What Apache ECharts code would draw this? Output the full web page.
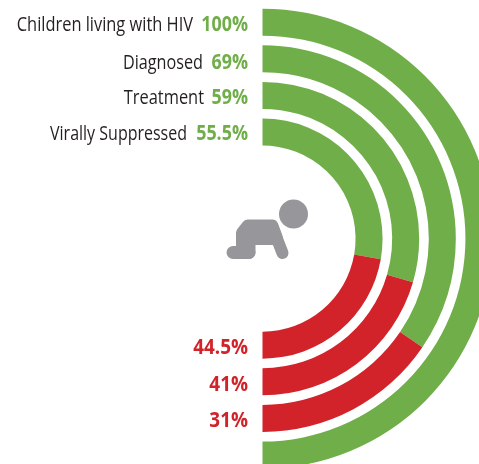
<!DOCTYPE html>
<html>
<head>
<meta charset="utf-8">
<title>Children living with HIV</title>
<script src="https://cdn.jsdelivr.net/npm/echarts@6/dist/echarts.min.js"></script>
<style>
  html, body { margin: 0; padding: 0; background: #fff; }
  #chart { width: 479px; height: 464px; }
</style>
</head>
<body>
<div id="chart"></div>
<script>
// rings go from the inside out
var categories = ['Virally Suppressed', 'Treatment', 'Diagnosed', 'Children living with HIV'];
var reached = [55.5, 59, 69, 100];
var missed = [44.5, 41, 31, 0];
var reachedLabels = ['55.5%', '59%', '69%', '100%'];
var missedLabels = ['44.5%', '41%', '31%'];

var green = '#6fae49';
var red = '#d2232a';
var grey = '#97979b';
var labelFont = '"Open Sans", sans-serif';

// text rows, same order as the rings
var topRows = [134, 98, 63, 25];
var nameRight = [187, 204, 203, 193];
var nameSqueeze = [0.8, 0.82, 0.81, 0.82];
var bottomRows = [348, 385, 421];

var graphics = [];

function addText(text, x, y, font, fill, squeeze) {
    graphics.push({
        type: 'text',
        x: x,
        y: y,
        scaleX: squeeze,
        style: {
            text: text,
            align: 'right',
            verticalAlign: 'middle',
            font: font,
            fill: fill
        }
    });
}

categories.forEach(function (name, i) {
    addText(name, nameRight[i], topRows[i], '20px ' + labelFont, '#231f20', nameSqueeze[i]);
    addText(reachedLabels[i], 248, topRows[i], 'bold 21px ' + labelFont, green, 0.85);
});

missedLabels.forEach(function (label, i) {
    addText(label, 248, bottomRows[i], 'bold 21px ' + labelFont, red, 0.9);
});

// crawling baby icon
graphics.push({
    type: 'circle',
    shape: { cx: 293.5, cy: 214, r: 14.5 },
    style: { fill: grey }
});
graphics.push({
    type: 'polygon',
    shape: {
        points: [[242.5, 233], [248, 226], [272, 226], [276.5, 238.5], [249, 238.5], [249, 252.5], [242.5, 252.5]]
    },
    style: { fill: grey, stroke: grey, lineWidth: 13, lineJoin: 'round' }
});
graphics.push({
    type: 'line',
    shape: { x1: 233, y1: 252.5, x2: 249, y2: 252.5 },
    style: { stroke: grey, lineWidth: 13, lineCap: 'round' }
});
graphics.push({
    type: 'line',
    shape: { x1: 272, y1: 226, x2: 282.5, y2: 253 },
    style: { stroke: grey, lineWidth: 12, lineCap: 'round' }
});

var chart = echarts.init(document.getElementById('chart'));
chart.setOption({
    animation: false,
    backgroundColor: '#fff',
    polar: {
        center: [262.5, 238.6],
        radius: [88.25, 234.75]
    },
    // 100% is half a turn
    angleAxis: {
        type: 'value',
        min: 0,
        max: 200,
        startAngle: 90,
        clockwise: true,
        show: false
    },
    radiusAxis: {
        type: 'category',
        data: categories,
        show: false
    },
    series: [
        {
            type: 'bar',
            coordinateSystem: 'polar',
            stack: 'ring',
            barWidth: 27,
            silent: true,
            data: reached,
            itemStyle: { color: green }
        },
        {
            type: 'bar',
            coordinateSystem: 'polar',
            stack: 'ring',
            barWidth: 27,
            silent: true,
            data: missed,
            itemStyle: { color: red }
        }
    ],
    graphic: graphics
});
</script>
</body>
</html>
